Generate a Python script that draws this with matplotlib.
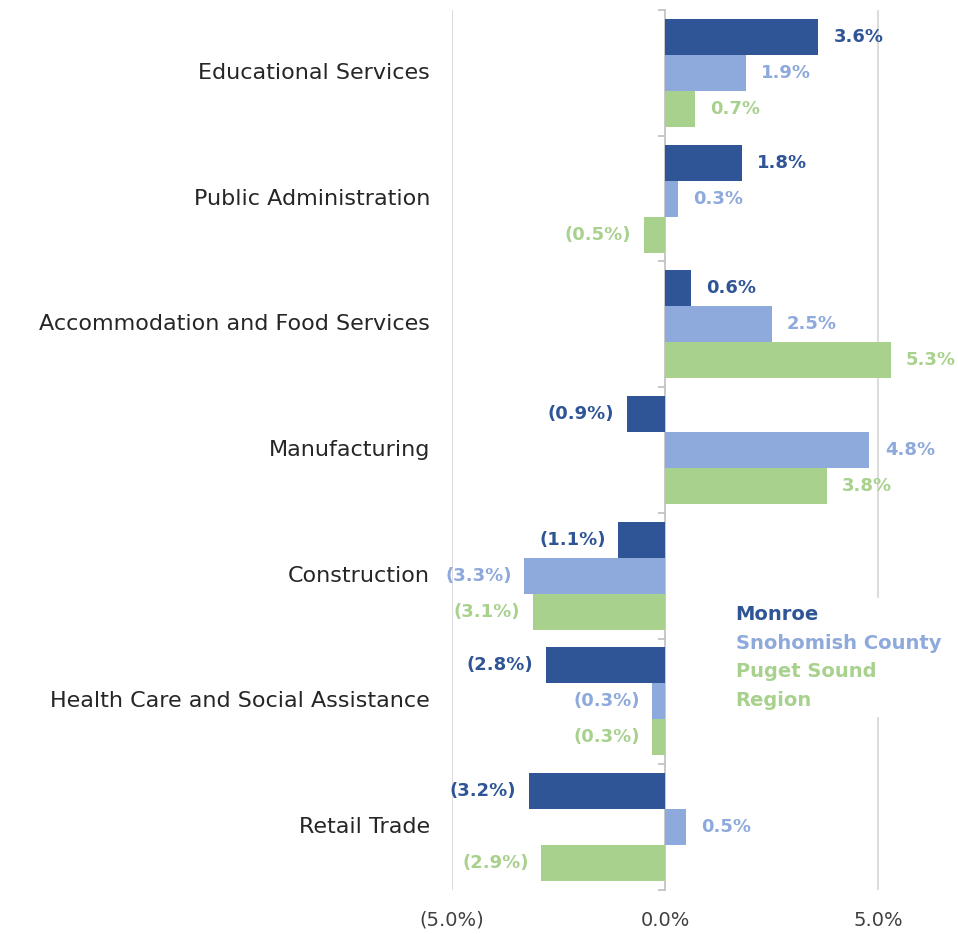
import matplotlib
matplotlib.use("Agg")
import matplotlib.pyplot as plt
from matplotlib.transforms import blended_transform_factory
from matplotlib.patches import Patch
import numpy as np

categories = ["Educational Services", "Public Administration", "Accommodation and Food Services",
              "Manufacturing", "Construction", "Health Care and Social Assistance", "Retail Trade"]
monroe = [3.6, 1.8, 0.6, -0.9, -1.1, -2.8, -3.2]
snohomish = [1.9, 0.3, 2.5, 4.8, -3.3, -0.3, 0.5]
puget = [0.7, -0.5, 5.3, 3.8, -3.1, -0.3, -2.9]
series_names = ["Monroe", "Snohomish County", "Puget Sound\nRegion"]
colors = ["#2F5597", "#8EA9DB", "#A9D18E"]
xticks = [-5, 0, 5]
xticklabels = ["(5.0%)", "0.0%", "5.0%"]

FONT = "DejaVu Sans"
plt.rcParams["font.family"] = [FONT]

fig = plt.figure(figsize=(9.58, 9.34), dpi=100)
ax = fig.add_axes([452/958, 1-890/934, 1-452/958, 880/934])

n = len(categories)
ypos = np.arange(n)
bh = 0.286
offsets = [-bh, 0, bh]
series = [monroe, snohomish, puget]

ax.set_xlim(-5, (958-665)/42.6)
ax.set_ylim(n-0.5, -0.5)

for k, (vals, col) in enumerate(zip(series, colors)):
    ys = ypos + offsets[k]
    ax.barh(ys, vals, height=bh, color=col, zorder=3)
    for y, v in zip(ys, vals):
        if v >= 0:
            ax.annotate(f"{v:.1f}%", (v, y), xytext=(11, 0), textcoords="offset points",
                        ha="left", va="center", color=col, fontsize=13, fontweight="bold",
                        annotation_clip=False)
        else:
            ax.annotate(f"({abs(v):.1f}%)", (v, y), xytext=(-9, 0), textcoords="offset points",
                        ha="right", va="center", color=col, fontsize=13, fontweight="bold",
                        annotation_clip=False)

for s in ["top", "right", "bottom"]:
    ax.spines[s].set_visible(False)
ax.spines["left"].set_position(("data", 0))
ax.spines["left"].set_color("#BFBFBF")
ax.spines["left"].set_linewidth(1.2)
ax.set_yticks(np.arange(-0.5, n, 1.0))
ax.set_yticklabels([])
ax.tick_params(axis="y", length=5, color="#BFBFBF", width=1.2)

for x in [-5, 5]:
    ax.axvline(x, color="#D9D9D9", lw=1.3, zorder=1)

ax.set_xticks(xticks)
ax.set_xticklabels(xticklabels, fontsize=14, color="#404040")
ax.tick_params(axis="x", length=0, pad=15)

tr = blended_transform_factory(ax.transAxes, ax.transData)
for y, c in zip(ypos, categories):
    ax.text(-22/506, y, c, transform=tr, ha="right", va="center", fontsize=16, color="#262626")

# legend: each line of the series names as its own entry, coloured by series
leg_labels, leg_colors = [], []
for name, c in zip(series_names, colors):
    for part in name.split("\n"):
        leg_labels.append(part)
        leg_colors.append(c)
handles = [Patch(color="none") for _ in leg_labels]
leg = fig.legend(handles, leg_labels, loc="upper left", bbox_to_anchor=(718/958, 1-588/934),
                 frameon=True, handlelength=0, handletextpad=0, borderpad=0.4,
                 prop={"size": 14, "weight": "bold"}, labelspacing=0.48)
leg.get_frame().set_facecolor("white")
leg.get_frame().set_edgecolor("none")
leg.get_frame().set_alpha(1)
for t, c in zip(leg.get_texts(), leg_colors):
    t.set_color(c)

fig.savefig("out.png", dpi=100)
